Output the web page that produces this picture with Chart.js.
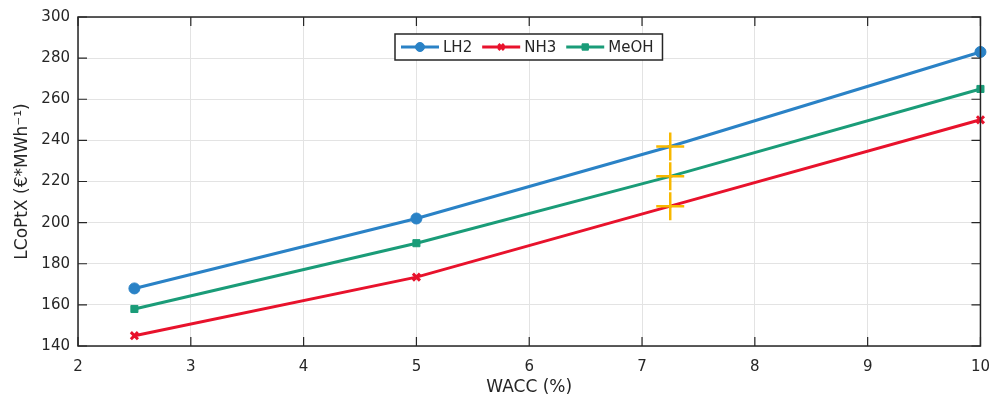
<!DOCTYPE html>
<html>
<head>
<meta charset="utf-8">
<script src="https://cdn.jsdelivr.net/npm/chart.js@4.4.1/dist/chart.umd.min.js"></script>
<style>
  html, body { margin: 0; padding: 0; background: #fff; overflow: hidden; }
  #clip { position: absolute; left: 0; top: 0; width: 989px; height: 398px; overflow: hidden; }
  #wrap { position: absolute; left: 0; top: 0; width: 1002px; height: 398px; }
  canvas { display: block; }
</style>
</head>
<body>
<div id="clip"><div id="wrap"><canvas id="chart"></canvas></div></div>
<script>
// data
const wacc = [2.5, 5, 7.25, 10]
const lh2 = [168, 202, 237, 283]
const nh3 = [145, 173.5, 208, 250]
const meoh = [158, 190, 222.5, 265]
// highlighted points (yellow crosses)
const markWacc = 7.25
const marks = [237, 222.5, 208]

const xMin = 2, xMax = 10, xStep = 1
const yMin = 140, yMax = 300, yStep = 20

const AXIS = '#262626'
const FONT = 'DejaVu Sans'

const toXY = ys => ys.map((y, i) => ({x: wacc[i], y: y}))

const series = [
  {label: 'LH2', data: toXY(lh2), color: '#2a82c6', style: 'circle', r: 5.5, lr: 4.5},
  {label: 'NH3', data: toXY(nh3), color: '#e8122c', style: 'crossRot', r: 5, lr: 4},
  {label: 'MeOH', data: toXY(meoh), color: '#1a9c78', style: 'rect', r: 5, lr: 4.5}
]

// box + inward ticks on all four sides, matlab style
const boxTicks = {
  id: 'boxTicks',
  afterDatasetsDraw(chart) {
    const {ctx, chartArea: a, scales: {x, y}} = chart
    ctx.save()
    ctx.strokeStyle = AXIS
    ctx.lineWidth = 1.5
    ctx.strokeRect(a.left, a.top, a.right - a.left, a.bottom - a.top)
    ctx.lineWidth = 1.2
    ctx.beginPath()
    const len = 9
    x.ticks.forEach(t => {
      const px = x.getPixelForValue(t.value)
      ctx.moveTo(px, a.bottom); ctx.lineTo(px, a.bottom - len)
      ctx.moveTo(px, a.top); ctx.lineTo(px, a.top + len)
    })
    y.ticks.forEach(t => {
      const py = y.getPixelForValue(t.value)
      ctx.moveTo(a.left, py); ctx.lineTo(a.left + len, py)
      ctx.moveTo(a.right, py); ctx.lineTo(a.right - len, py)
    })
    ctx.stroke()
    ctx.restore()
  }
}

// boxed legend inside the plot, top centre
const boxLegend = {
  id: 'boxLegend',
  afterDraw(chart) {
    const {ctx, chartArea: a} = chart
    ctx.save()
    ctx.font = '15px "' + FONT + '"'
    const lineLen = 38, gapL = 4, pad = 6, gap = 10
    const items = series.map(s => ({s, w: lineLen + gapL + ctx.measureText(s.label).width}))
    const total = items.reduce((t, i) => t + i.w, 0) + gap * (items.length - 1) + pad + 9
    const h = 26
    const cx = (a.left + a.right) / 2
    const left = Math.round(cx - total / 2), top = a.top + 17
    ctx.fillStyle = '#fff'
    ctx.fillRect(left, top, total, h)
    ctx.strokeStyle = AXIS
    ctx.lineWidth = 1.5
    ctx.strokeRect(left, top, total, h)
    let xx = left + pad
    const my = top + h / 2
    items.forEach(it => {
      const s = it.s
      ctx.strokeStyle = s.color
      ctx.lineWidth = 3
      ctx.beginPath(); ctx.moveTo(xx, my); ctx.lineTo(xx + lineLen, my); ctx.stroke()
      ctx.fillStyle = s.color
      ctx.lineWidth = s.style === 'crossRot' ? 3 : 1
      Chart.helpers.drawPoint(ctx, {pointStyle: s.style, radius: s.lr, borderWidth: ctx.lineWidth, rotation: 0},
        xx + lineLen / 2, my)
      ctx.fillStyle = AXIS
      ctx.textBaseline = 'middle'
      ctx.fillText(s.label, xx + lineLen + gapL, my + 1)
      xx += it.w + gap
    })
    ctx.restore()
  }
}

const datasets = series.map(s => ({
  label: s.label,
  data: s.data,
  borderColor: s.color,
  backgroundColor: s.color,
  borderWidth: 3,
  pointStyle: s.style,
  pointRadius: s.data.map(p => p.x === markWacc ? 0 : s.r),
  pointBorderWidth: s.style === 'crossRot' ? 3 : 1,
  tension: 0,
  clip: false,
  order: 2
}))

datasets.push({
  label: 'mark',
  data: marks.map(v => ({x: markWacc, y: v})),
  showLine: false,
  pointStyle: 'cross',
  pointRadius: 14,
  pointBorderWidth: 2.5,
  borderColor: '#f8b800',
  backgroundColor: '#f8b800',
  order: 1
})

const tickFont = {family: FONT, size: 15}
const titleFont = {family: FONT, size: 17}

new Chart(document.getElementById('chart'), {
  type: 'line',
  data: {datasets},
  options: {
    responsive: true,
    maintainAspectRatio: false,
    animation: false,
    layout: {padding: {top: 15, right: 0, left: 0, bottom: 0}},
    plugins: {legend: {display: false}, tooltip: {enabled: false}},
    scales: {
      x: {
        type: 'linear', min: xMin, max: xMax,
        ticks: {stepSize: xStep, font: tickFont, color: AXIS, padding: 12, maxRotation: 0},
        grid: {color: '#e3e3e3', lineWidth: 1, drawTicks: false},
        border: {display: false},
        title: {display: true, text: 'WACC (%)', font: titleFont, color: AXIS, padding: {top: 4, bottom: 0}},
        afterFit(s) { s.height = 52 }
      },
      y: {
        type: 'linear', min: yMin, max: yMax,
        ticks: {stepSize: yStep, font: tickFont, color: AXIS, padding: 8},
        grid: {color: '#e3e3e3', lineWidth: 1, drawTicks: false},
        border: {display: false},
        title: {display: true, text: 'LCoPtX (€*MWh⁻¹)', font: titleFont, color: AXIS, padding: {top: 12, bottom: 2}},
        afterFit(s) { s.width = 78 }
      }
    }
  },
  plugins: [boxTicks, boxLegend]
})
</script>
</body>
</html>
